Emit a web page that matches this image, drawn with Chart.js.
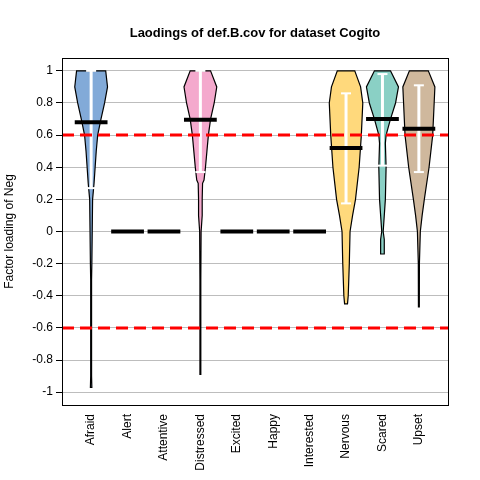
<!DOCTYPE html>
<html><head><meta charset="utf-8">
<script src="https://cdn.jsdelivr.net/npm/chart.js@4"></script>
<style>body{margin:0;background:#fff}#wrap{width:480px;height:480px}</style>
</head><body><div id="wrap"><canvas id="c"></canvas></div>
<script>
const categories = ["Afraid","Alert","Attentive","Distressed","Excited","Happy","Interested","Nervous","Scared","Upset"];
const yTicks = [1,0.8,0.6,0.4,0.2,0,-0.2,-0.4,-0.6,-0.8,-1];
const medians = [0.68,0,0,0.695,0,0,0,0.52,0.70,0.64];
const iqrLow  = [0.27,null,null,0.37,null,null,null,0.175,0.41,0.37];
const iqrHigh = [1.0,null,null,1.0,null,null,null,0.86,0.98,0.91];
const colors = ["#82aad8",null,null,"#f4a9cd",null,null,null,"#ffd97c","#8ad0c5","#cfb89d"];
// violin profiles: y levels and half widths (category units)
const violinY = {
  Afraid:     [1.0,0.9,0.8,0.7,0.6,0.5,0.4,0.3,0.25,0.2,0.0,-0.2,-0.3,-0.9,-0.97],
  Distressed: [1.0,0.9,0.8,0.7,0.6,0.5,0.4,0.32,0.3,0.2,0.1,0.0,-0.3,-0.89],
  Nervous:    [1.0,0.9,0.8,0.6,0.4,0.2,0.1,0.0,-0.2,-0.4,-0.45],
  Scared:     [1.0,0.9,0.8,0.7,0.6,0.55,0.4,0.2,0.1,0.0,-0.05,-0.14],
  Upset:      [1.0,0.9,0.8,0.6,0.4,0.2,0.1,0.0,-0.2,-0.47]
};
const violinW = {
  Afraid:     [0.40,0.45,0.37,0.27,0.18,0.14,0.11,0.08,0.06,0.04,0.03,0.02,0.012,0.012,0.02],
  Distressed: [0.28,0.45,0.38,0.28,0.22,0.18,0.14,0.10,0.06,0.05,0.05,0.02,0.012,0.012],
  Nervous:    [0.24,0.40,0.46,0.42,0.36,0.26,0.18,0.11,0.09,0.06,0.04],
  Scared:     [0.22,0.44,0.36,0.22,0.10,0.08,0.10,0.08,0.05,0.02,0.05,0.05],
  Upset:      [0.26,0.44,0.42,0.38,0.28,0.15,0.09,0.04,0.015,0.012]
};

const violinPlugin = {
  id: "violins",
  beforeDatasetsDraw(chart) {
    const {ctx, scales: {x, y}} = chart;
    ctx.save();
    categories.forEach((name, i) => {
      const ys = violinY[name];
      if (!ys) return;
      const ws = violinW[name];
      const c = i + 1;
      ctx.beginPath();
      ys.forEach((v, k) => {
        const px = x.getPixelForValue(c + ws[k]), py = y.getPixelForValue(v);
        k ? ctx.lineTo(px, py) : ctx.moveTo(px, py);
      });
      for (let k = ys.length - 1; k >= 0; k--)
        ctx.lineTo(x.getPixelForValue(c - ws[k]), y.getPixelForValue(ys[k]));
      ctx.closePath();
      ctx.fillStyle = colors[i];
      ctx.fill();
      ctx.lineWidth = 1.2;
      ctx.strokeStyle = "#000";
      ctx.stroke();
      // IQR white bar
      const cx = x.getPixelForValue(c);
      ctx.strokeStyle = "#fff";
      ctx.lineWidth = 3;
      ctx.beginPath();
      ctx.moveTo(cx, y.getPixelForValue(iqrHigh[i]));
      ctx.lineTo(cx, y.getPixelForValue(iqrLow[i]));
      ctx.stroke();
      ctx.lineWidth = 2;
      [iqrHigh[i], iqrLow[i]].forEach(v => {
        ctx.beginPath();
        ctx.moveTo(cx - 5, y.getPixelForValue(v));
        ctx.lineTo(cx + 5, y.getPixelForValue(v));
        ctx.stroke();
      });
    });
    ctx.restore();
  },
  afterDraw(chart) {
    const {ctx, chartArea: a} = chart;
    ctx.save();
    ctx.strokeStyle = "#000";
    ctx.lineWidth = 1;
    ctx.strokeRect(a.left + 0.5, a.top + 0.5, a.right - a.left, a.bottom - a.top);
    ctx.fillStyle = "#000";
    ctx.font = "bold 13px 'Liberation Sans', Arial, sans-serif";
    ctx.textAlign = "center";
    ctx.fillText("Laodings of def.B.cov for dataset Cogito", (a.left + a.right) / 2, 37);
    ctx.restore();
  }
};

const medianSets = medians.map((m, i) => ({
  type: "line",
  data: [{x: i + 1 - 0.45, y: m}, {x: i + 1 + 0.45, y: m}],
  borderColor: "#000", borderWidth: 4, pointRadius: 0, order: 1
}));
const refSets = [0.6, -0.6].map(v => ({
  type: "line",
  data: [{x: 0.2, y: v}, {x: 10.8, y: v}],
  borderColor: "#ff0000", borderWidth: 3, borderDash: [12, 6], pointRadius: 0, order: 0
}));

new Chart(document.getElementById("c"), {
  type: "scatter",
  data: { datasets: [...medianSets, ...refSets] },
  plugins: [violinPlugin],
  options: {
    responsive: true, maintainAspectRatio: false, animation: false,
    layout: { padding: { top: 58, right: 32, left: 0, bottom: 0 } },
    plugins: { legend: { display: false }, tooltip: { enabled: false } },
    scales: {
      x: {
        type: "linear", min: 0.2, max: 10.8,
        afterBuildTicks: s => { s.ticks = categories.map((_, i) => ({ value: i + 1 })); },
        afterFit: s => { s.height = 75; },
        grid: { display: false, drawTicks: true, tickLength: 6, tickColor: "#000" },
        border: { display: false },
        ticks: { color: "#000", maxRotation: 90, minRotation: 90, autoSkip: false,
          font: { size: 12, family: "'Liberation Sans', Arial" },
          callback: v => categories[Math.round(v) - 1] }
      },
      y: {
        min: -1.08, max: 1.08,
        afterBuildTicks: s => { s.ticks = yTicks.map(v => ({ value: v })); },
        afterFit: s => { s.width = 62; },
        grid: { color: "#bdbdbd", lineWidth: 1, tickColor: "#000", tickLength: 6 },
        border: { display: false },
        title: { display: true, text: "Factor loading of Neg", color: "#000",
          font: { size: 12, family: "'Liberation Sans', Arial" }, padding: 2 },
        ticks: { color: "#000", font: { size: 12, family: "'Liberation Sans', Arial" },
          callback: v => String(v) }
      }
    }
  }
});
</script></body></html>
